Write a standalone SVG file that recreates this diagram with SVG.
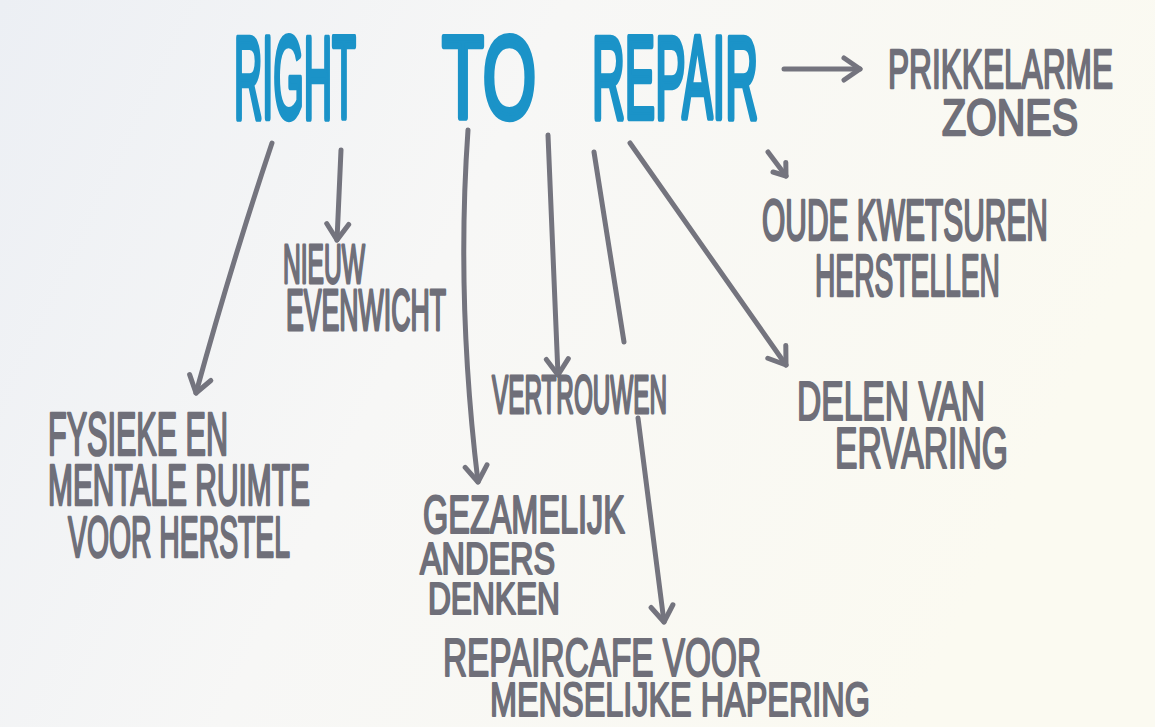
<svg xmlns="http://www.w3.org/2000/svg" width="1155" height="727" viewBox="0 0 1155 727">
<defs>
<linearGradient id="bg" x1="0" y1="0" x2="1" y2="0.3">
<stop offset="0" stop-color="#eceff4"/>
<stop offset="0.45" stop-color="#f7f7f6"/>
<stop offset="1" stop-color="#fbfaf1"/>
</linearGradient>
<marker id="arr" viewBox="-20 -14 24 28" markerWidth="24" markerHeight="28" refX="0" refY="0" orient="auto" markerUnits="userSpaceOnUse">
<path d="M-16,-11 L0,0 L-16,11" fill="none" stroke="#74747e" stroke-width="5" stroke-linecap="round" stroke-linejoin="round"/>
</marker>
<marker id="arrs" viewBox="-16 -12 20 24" markerWidth="20" markerHeight="24" refX="0" refY="0" orient="auto" markerUnits="userSpaceOnUse">
<path d="M-11,-8 L0,0 L-11,8" fill="none" stroke="#74747e" stroke-width="5" stroke-linecap="round" stroke-linejoin="round"/>
</marker>
</defs>
<style>
.t{font-family:"Liberation Sans",Arial,sans-serif;fill:#6f6f79;stroke:#6f6f79;stroke-width:1.3;stroke-linejoin:round}
.title{font-family:"Liberation Sans",Arial,sans-serif;fill:#1b93c8;stroke:#1b93c8;stroke-width:2.2;stroke-linejoin:round}
.c{fill:none;stroke:#74747e;stroke-width:5;stroke-linecap:round}
</style>
<rect width="1155" height="727" fill="url(#bg)"/>
<g id="root">
<text class="title" transform="scale(1,2.85)" font-size="41"><tspan x="234" y="41.4" textLength="122" lengthAdjust="spacingAndGlyphs">RIGHT</tspan><tspan x="442" y="41.4" textLength="94" lengthAdjust="spacingAndGlyphs">TO</tspan><tspan x="592" y="41.4" textLength="166" lengthAdjust="spacingAndGlyphs">REPAIR</tspan></text>
</g>
<g id="connectors">
<path class="c" d="M272,143 Q232,262 196,393" marker-end="url(#arr)"/>
<path class="c" d="M341,150 L337,240" marker-end="url(#arr)"/>
<path class="c" d="M468,130 Q456,300 478,482" marker-end="url(#arr)"/>
<path class="c" d="M548,135 L558,375" marker-end="url(#arr)"/>
<path class="c" d="M594,152 L624,342"/>
<path class="c" d="M638,418 L664,622" marker-end="url(#arr)"/>
<path class="c" d="M630,143 L786,365" marker-end="url(#arr)"/>
<path class="c" d="M784,69 L860,69" marker-end="url(#arr)"/>
<path class="c" d="M768,152 L786,176" marker-end="url(#arrs)"/>
</g>
<g id="prikkelarme">
<text class="t" transform="scale(1,1.8)"><tspan x="888" y="48.89" font-size="31" textLength="225" lengthAdjust="spacingAndGlyphs">PRIKKELARME</tspan><tspan x="942" y="75" font-size="28" textLength="136" lengthAdjust="spacingAndGlyphs">ZONES</tspan></text>
</g>
<g id="oude">
<text class="t" transform="scale(1,2)"><tspan x="762" y="120" font-size="29" textLength="286" lengthAdjust="spacingAndGlyphs">OUDE KWETSUREN</tspan><tspan x="815" y="148" font-size="30" textLength="185" lengthAdjust="spacingAndGlyphs">HERSTELLEN</tspan></text>
</g>
<g id="nieuw">
<text class="t" transform="scale(1,2.2)"><tspan x="283" y="128.64" font-size="25" textLength="82" lengthAdjust="spacingAndGlyphs">NIEUW</tspan><tspan x="286" y="150" font-size="26" textLength="160" lengthAdjust="spacingAndGlyphs">EVENWICHT</tspan></text>
</g>
<g id="fysieke">
<text class="t" transform="scale(1,2)"><tspan x="48" y="227.5" font-size="31" textLength="180" lengthAdjust="spacingAndGlyphs">FYSIEKE EN</tspan><tspan x="48" y="252.5" font-size="29" textLength="262" lengthAdjust="spacingAndGlyphs">MENTALE RUIMTE</tspan><tspan x="68" y="278.5" font-size="29" textLength="222" lengthAdjust="spacingAndGlyphs">VOOR HERSTEL</tspan></text>
</g>
<g id="vertrouwen">
<text class="t" transform="scale(1,2.2)"><tspan x="492" y="187.73" font-size="24.5" textLength="175" lengthAdjust="spacingAndGlyphs">VERTROUWEN</tspan></text>
</g>
<g id="gezamelijk">
<text class="t" transform="scale(1,1.7)"><tspan x="423" y="313.53" font-size="31.2" textLength="202" lengthAdjust="spacingAndGlyphs">GEZAMELIJK</tspan><tspan x="420" y="337.65" font-size="26.3" textLength="135" lengthAdjust="spacingAndGlyphs">ANDERS</tspan><tspan x="428" y="361.18" font-size="26.3" textLength="132" lengthAdjust="spacingAndGlyphs">DENKEN</tspan></text>
</g>
<g id="repaircafe">
<text class="t" transform="scale(1,1.6)"><tspan x="443" y="422.5" font-size="33.2" textLength="318" lengthAdjust="spacingAndGlyphs">REPAIRCAFE VOOR</tspan><tspan x="490" y="447.5" font-size="30.5" textLength="380" lengthAdjust="spacingAndGlyphs">MENSELIJKE HAPERING</tspan></text>
</g>
<g id="delen">
<text class="t" transform="scale(1,1.7)"><tspan x="797" y="247.06" font-size="33" textLength="188" lengthAdjust="spacingAndGlyphs">DELEN VAN</tspan><tspan x="835" y="275.29" font-size="34" textLength="173" lengthAdjust="spacingAndGlyphs">ERVARING</tspan></text>
</g>
</svg>
